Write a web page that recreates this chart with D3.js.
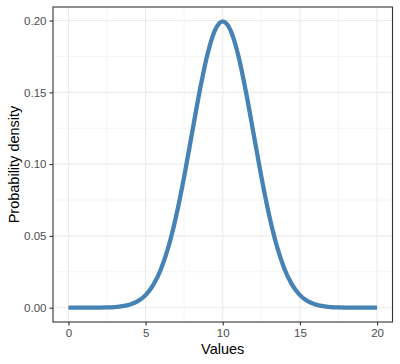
<!DOCTYPE html>
<html><head><meta charset="utf-8">
<script src="https://cdn.jsdelivr.net/npm/d3@7"></script>
<style>body{margin:0;background:#fff}</style>
</head><body>
<script>
const xValues = [0,0.5,1,1.5,2,2.5,3,3.5,4,4.5,5,5.5,6,6.5,7,7.5,8,8.5,9,9.5,10,10.5,11,11.5,12,12.5,13,13.5,14,14.5,15,15.5,16,16.5,17,17.5,18,18.5,19,19.5,20];
const densityValues = [0,0,0.00001,0.00002,0.00007,0.00018,0.00044,0.00101,0.00222,0.00455,0.00876,0.01587,0.02700,0.04314,0.06476,0.09132,0.12099,0.15057,0.17603,0.19333,0.19947,0.19333,0.17603,0.15057,0.12099,0.09132,0.06476,0.04314,0.02700,0.01587,0.00876,0.00455,0.00222,0.00101,0.00044,0.00018,0.00007,0.00002,0.00001,0,0];
const xTicks = [0,5,10,15,20];
const yTicks = [0,0.05,0.10,0.15,0.20];
const xMinor = [2.5,7.5,12.5,17.5];
const yMinor = [0.025,0.075,0.125,0.175];

const W=400,H=364;
const L=53,T=7,R=392.5,B=322;
const svg=d3.select("body").append("svg").attr("width",W).attr("height",H);
const x=d3.scaleLinear().domain([-1,21]).range([L,R]);
const yMax=0.19947, pad=yMax*0.05;
const y=d3.scaleLinear().domain([-pad,yMax+pad]).range([B,T]);

const g=svg.append("g");
g.selectAll(".xm").data(xMinor).join("line").attr("x1",d=>x(d)).attr("x2",d=>x(d)).attr("y1",T).attr("y2",B).attr("stroke","#ebebeb").attr("stroke-width",0.55);
g.selectAll(".ym").data(yMinor).join("line").attr("y1",d=>y(d)).attr("y2",d=>y(d)).attr("x1",L).attr("x2",R).attr("stroke","#ebebeb").attr("stroke-width",0.55);
g.selectAll(".xg").data(xTicks).join("line").attr("x1",d=>x(d)).attr("x2",d=>x(d)).attr("y1",T).attr("y2",B).attr("stroke","#ebebeb").attr("stroke-width",1.1);
g.selectAll(".yg").data(yTicks).join("line").attr("y1",d=>y(d)).attr("y2",d=>y(d)).attr("x1",L).attr("x2",R).attr("stroke","#ebebeb").attr("stroke-width",1.1);

const data=xValues.map((v,i)=>[v,densityValues[i]]);
svg.append("path").datum(data).attr("fill","none").attr("stroke","#4682b4").attr("stroke-width",4.3).attr("stroke-linecap","butt")
  .attr("d",d3.line().x(d=>x(d[0])).y(d=>y(d[1])).curve(d3.curveMonotoneX));

svg.append("rect").attr("x",L).attr("y",T).attr("width",R-L).attr("height",B-T).attr("fill","none").attr("stroke","#333").attr("stroke-width",1.1);

const xa=svg.append("g").attr("transform",`translate(0,${B})`).call(d3.axisBottom(x).tickValues(xTicks).tickFormat(d3.format("d")).tickSize(3.5).tickPadding(3));
const ya=svg.append("g").attr("transform",`translate(${L},0)`).call(d3.axisLeft(y).tickValues(yTicks).tickFormat(d3.format(".2f")).tickSize(3.5).tickPadding(3));
[xa,ya].forEach(a=>{a.select(".domain").remove();a.selectAll("line").attr("stroke","#333").attr("stroke-width",1.1);
  a.selectAll("text").attr("fill","#4d4d4d").style("font-family","Liberation Sans, Arial, sans-serif").style("font-size","11.5px");});

svg.append("text").attr("x",(L+R)/2).attr("y",354).attr("text-anchor","middle").style("font-family","Liberation Sans, Arial, sans-serif").style("font-size","14.5px").text("Values");
svg.append("text").attr("transform",`translate(19,${(T+B)/2}) rotate(-90)`).attr("text-anchor","middle").style("font-family","Liberation Sans, Arial, sans-serif").style("font-size","14.5px").text("Probability density");
</script>
</body></html>
